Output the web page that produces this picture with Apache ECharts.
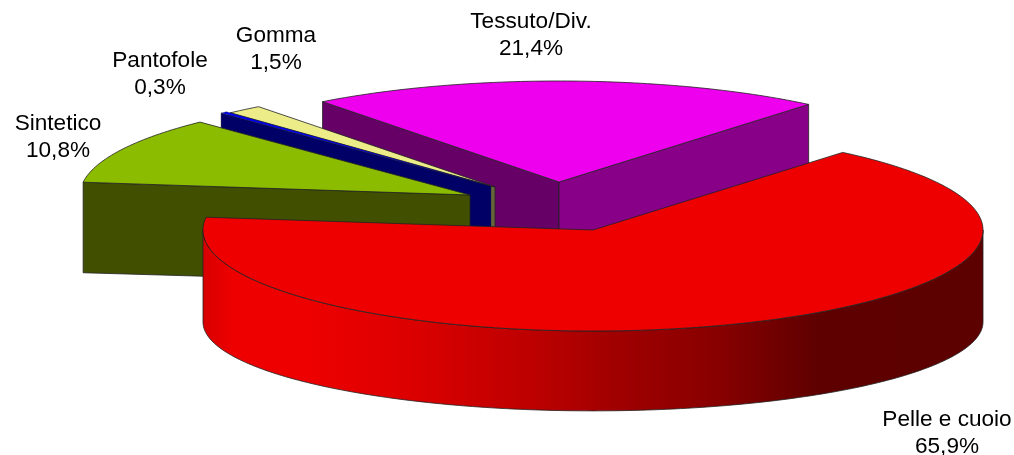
<!DOCTYPE html>
<html><head><meta charset="utf-8">
<style>html,body{margin:0;padding:0;background:#fff}#c{width:1014px;height:455px}</style>
<script src="https://cdn.jsdelivr.net/npm/echarts@6/dist/echarts.min.js"></script>
</head><body><div id="c"></div>
<script>
const categories = ['Pelle e cuoio','Sintetico','Pantofole','Gomma','Tessuto/Div.'];
const values = [65.9,10.8,0.3,1.5,21.4];
const valueLabels = ['65,9%','10,8%','0,3%','1,5%','21,4%'];

// styling and layout
const topColors = ['#EE0000','#8CBC00','#0000EE','#ECEC88','#EE00EE'];
const startFaceColors = [null,'#405000','#000066','#66663A','#660066'];
const endFaceColors = [null,null,null,null,'#880088'];
const centers = [[593,230],[470,195],[491,186],[495,187],[559,182]];
const depths = [92,89,89,89,89];
const strokeWidths = [0.8,0.8,0.35,0.8,0.8];
const labelPos = [[947,433],[58,137],[160,74],[276,49],[531,35]];
const drawOrder = [5,4,3,2,1];
const startAngle = 39.8, RX = 390, RY = 101, K = 0.88;
const wallStops = [[0,'#D80000'],[0.04,'#EE0000'],[0.13,'#EE0000'],[0.26,'#DD0000'],[0.43,'#BB0000'],[0.53,'#A00000'],[0.66,'#880000'],[0.79,'#5E0000'],[1,'#5C0000']];
const total = values.reduce((a,b)=>a+b,0);

function topPt(c,a){const r=a*Math.PI/180;return [c[0]+RX*Math.sin(r),c[1]-RY*Math.cos(r)];}
function arc(c,a0,a1){const n=Math.max(2,Math.ceil(Math.abs(a1-a0)));const o=[];for(let i=0;i<=n;i++)o.push(topPt(c,a0+(a1-a0)*i/n));return o;}

function renderItem(params,api){
  const i=params.dataIndex, v=api.value(0);
  let a0=startAngle; for(let j=0;j<i;j++)a0+=values[j]/total*360;
  const a1=a0+v/total*360, c=centers[i], z=drawOrder[i]*10, kids=[];
  const edge={stroke:'#222',lineWidth:strokeWidths[i],lineJoin:'round'};
  const botPt=p=>[p[0],c[1]+depths[i]+K*(p[1]-c[1])];
  const poly=(pts,fill,zz)=>kids.push({type:'polygon',z2:z+zz,shape:{points:pts},style:Object.assign({fill},edge),silent:true});
  function face(a,col,zz){if(!col)return;const p=topPt(c,a);poly([c,p,botPt(p),botPt(c)],col,zz);}
  face(a0,startFaceColors[i],0);
  face(a1,endFaceColors[i],1);
  const w0=Math.max(a0,90),w1=Math.min(a1,270);
  if(w1>w0){
    const u=arc(c,w0,w1),l=u.map(botPt).reverse();
    const fill=new echarts.graphic.LinearGradient(0,0,1,0,wallStops.map(s=>({offset:s[0],color:s[1]})));
    poly(u.concat(l),fill,2);
  }
  poly([c].concat(arc(c,a0,a1)),topColors[i],3);
  kids.push({type:'text',z2:200,silent:true,x:labelPos[i][0],y:labelPos[i][1],
    style:{text:categories[i]+'\n'+valueLabels[i],fill:'#000',align:'center',verticalAlign:'middle',
      font:'22.6px "Liberation Sans", Arial, sans-serif',lineHeight:27}});
  return {type:'group',children:kids};
}
const chart=echarts.init(document.getElementById('c'),null,{renderer:'canvas'});
chart.setOption({animation:false,backgroundColor:'#fff',series:[{type:'custom',coordinateSystem:'none',renderItem,
  data:values.map((v,i)=>({name:categories[i],value:[v]}))}]});
</script></body></html>
